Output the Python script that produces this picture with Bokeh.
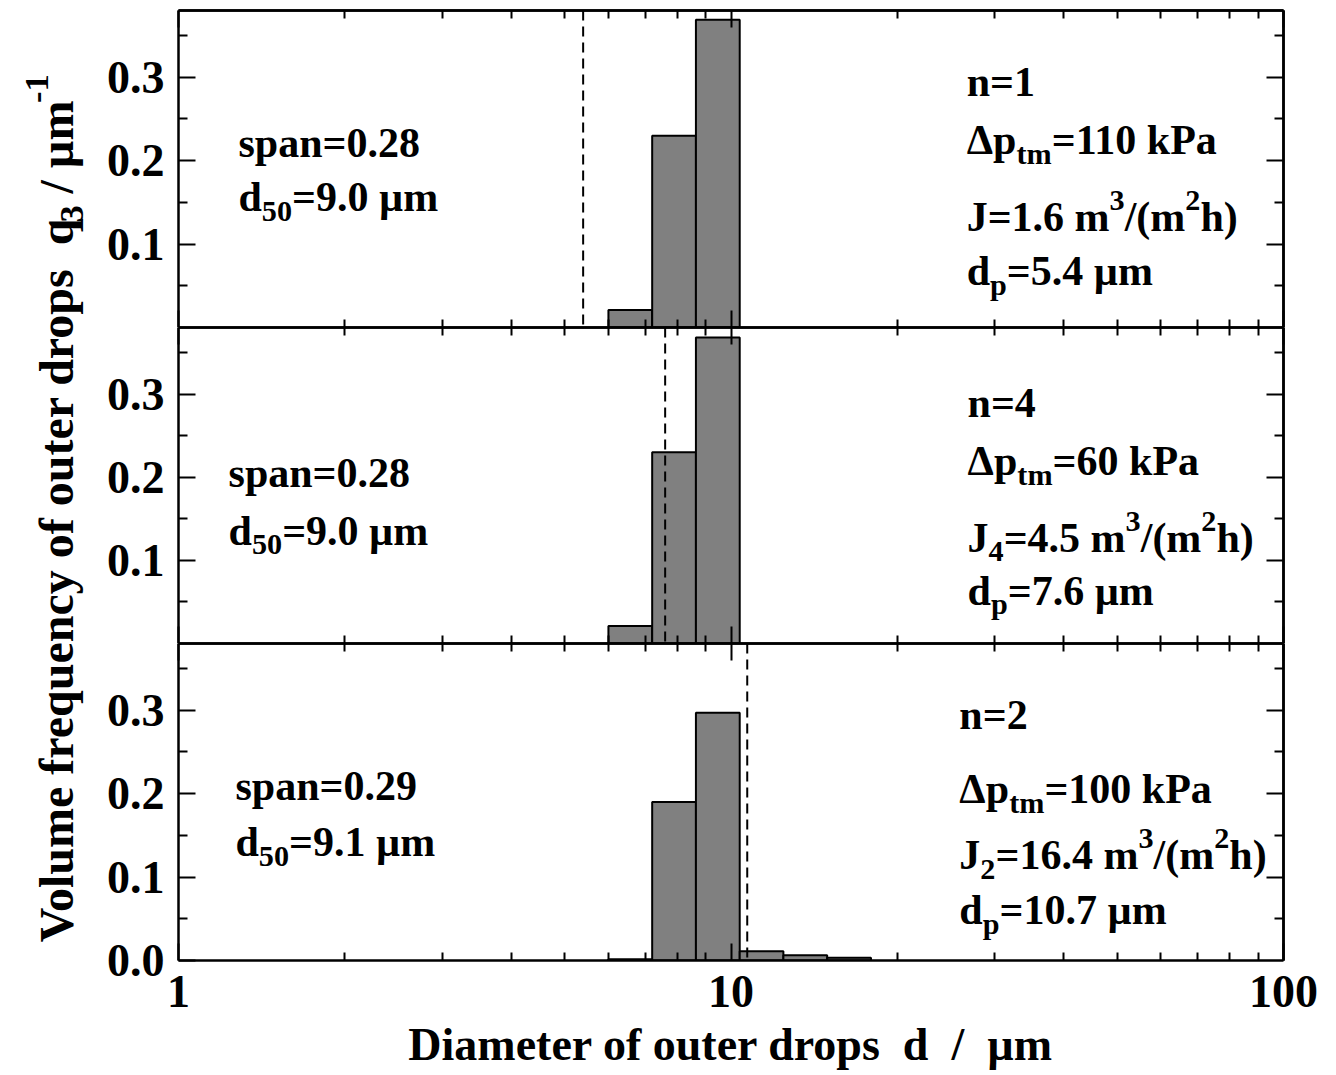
import numpy as np
from bokeh.plotting import figure
from bokeh.layouts import row, column
from bokeh.models import (Range1d, LinearAxis, FixedTicker, Span,
                          ColumnDataSource, NumeralTickFormatter)
from bokeh.core.properties import value
from bokeh.embed import file_html
from bokeh.resources import INLINE

FONT = "Liberation Serif"

# ---------------------------------------------------------------- data
# class edges of the outer-drop diameter distribution (um)
bin_edges = [6.0, 7.2, 8.64, 10.37, 12.44, 14.93, 17.92]

# volume density q3 of each class (1/um), one list per run
q3_n1 = [0.021, 0.230, 0.369, 0.0, 0.0, 0.0]
q3_n4 = [0.021, 0.230, 0.368, 0.0, 0.0, 0.0]
q3_n2 = [0.0015, 0.190, 0.297, 0.011, 0.0064, 0.0032]

runs = ["1", "4", "2"]
pressure_kpa = [110, 60, 100]
flux = [1.6, 4.5, 16.4]
flux_index = ["", "4", "2"]
pore_d = [5.4, 7.6, 10.7]
span_val = [0.28, 0.28, 0.29]
d50_val = [9.0, 9.0, 9.1]

x_ticks = [1, 10, 100]
x_minor = [2, 3, 4, 5, 6, 7, 8, 9, 20, 30, 40, 50, 60, 70, 80, 90]
y_ticks = [0.1, 0.2, 0.3]
y_minor = [0.05, 0.15, 0.25, 0.35]

# ---------------------------------------------------------------- text layout
# anchors of the annotation blocks inside each panel (data coordinates)
left_x = [1.284, 1.232, 1.268]
left_y = [[0.2215, 0.156], [0.205, 0.1355], [0.209, 0.1415]]
right_x = [26.7, 26.8, 25.9]
right_y = [[0.294, 0.225, 0.132, 0.068],
           [0.289, 0.219, 0.127, 0.0636],
           [0.294, 0.206, 0.126, 0.060]]

# advance widths (em) of the bold serif face, used to chain sub/superscripts
W = {" ": 0.25, "\u00a0": 0.25, "(": 0.333, ")": 0.333, ".": 0.25, "/": 0.278,
     "=": 0.57, "-": 0.333, "a": 0.5, "b": 0.556, "c": 0.444, "d": 0.556,
     "e": 0.444, "f": 0.333, "h": 0.556, "k": 0.556, "l": 0.278, "m": 0.833,
     "n": 0.556, "o": 0.5, "p": 0.556, "q": 0.556, "r": 0.444, "s": 0.389,
     "t": 0.333, "u": 0.556, "y": 0.5, "J": 0.5, "P": 0.611, "V": 0.722,
     "\u0394": 0.63, "\u00b5": 0.556}
for ch in "0123456789":
    W[ch] = 0.5

SCRIPT = 0.72


def width(s, size):
    return sum(W.get(c, 0.5) for c in s) * size


def rich_text(p, x, y, parts, size):
    """Draw a run of text pieces (normal / sub / sup) starting at (x, y)."""
    groups = {}
    off = 0.0
    for s, role in parts:
        fs = size * (SCRIPT if role else 1.0)
        body = s.strip(" \u00a0")
        lead = len(s) - len(s.lstrip(" \u00a0"))
        trail = len(s) - len(s.rstrip(" \u00a0"))
        off += lead * 0.25 * fs
        yo = 0.33 * size if role == "sub" else (-0.40 * size if role == "sup" else 0.0)
        g = groups.setdefault(role, dict(x=[], y=[], t=[], xo=[], yo=[]))
        g["x"].append(x); g["y"].append(y); g["t"].append(body)
        g["xo"].append(off); g["yo"].append(yo)
        off += width(body, fs) + trail * 0.25 * fs
    for role, g in groups.items():
        fs = size * (SCRIPT if role else 1.0)
        p.text(x="x", y="y", text="t", x_offset="xo", y_offset="yo",
               source=ColumnDataSource(g), text_font=value(FONT),
               text_font_style="bold", text_font_size=f"{fs:.1f}px",
               text_color="black", text_align="left", text_baseline="alphabetic")


def base_style(ax):
    ax.axis_line_width = 2.5
    ax.axis_line_color = "black"
    ax.major_tick_line_width = 2
    ax.minor_tick_line_width = 2
    ax.major_tick_out = 0
    ax.minor_tick_out = 0
    ax.major_label_standoff = 0


def labelled_axis(ticks, minor, fmt, major_len, minor_len, standoff):
    ax = LinearAxis(ticker=FixedTicker(ticks=ticks, minor_ticks=minor),
                    formatter=NumeralTickFormatter(format=fmt))
    base_style(ax)
    ax.major_tick_in = major_len
    ax.minor_tick_in = minor_len
    ax.major_label_standoff = standoff
    ax.major_label_text_font = FONT
    ax.major_label_text_font_style = "bold"
    ax.major_label_text_font_size = "46px"
    ax.major_label_text_color = "black"
    return ax


def tick_only_axes(positions, length):
    """An unlabelled axis whose only marks are inward ticks at the given positions."""
    ax = LinearAxis(ticker=FixedTicker(ticks=[], minor_ticks=positions))
    base_style(ax)
    ax.major_tick_in = 0
    ax.minor_tick_in = length
    return ax


def mirror(p, loc, major, minor, major_len, minor_len):
    p.add_layout(tick_only_axes(major, major_len), loc)
    p.add_layout(tick_only_axes(minor, minor_len), loc)


def panel(k, q3, frame_h, top_border, bottom_border, last):
    p = figure(x_axis_type="log", x_range=Range1d(1, 100), y_range=Range1d(0, 0.38),
               frame_width=1105, frame_height=frame_h,
               min_border_left=88, min_border_right=53,
               min_border_top=top_border, min_border_bottom=bottom_border,
               x_axis_location=None, y_axis_location=None,
               toolbar_location=None, output_backend="svg")
    p.outline_line_color = None
    p.grid.visible = False
    p.background_fill_color = "white"
    p.border_fill_color = "white"

    # x axes: labelled only below the last panel, plain inward ticks elsewhere
    if last:
        ax = labelled_axis(x_ticks, x_minor, "0", 17, 8, 15)
        ax.axis_label = "Diameter of outer drops\u00a0 d\u00a0 /\u00a0 \u00b5m"
        ax.axis_label_text_font = FONT
        ax.axis_label_text_font_style = "bold"
        ax.axis_label_text_font_size = "46px"
        ax.axis_label_text_color = "black"
        ax.axis_label_standoff = 9
        p.add_layout(ax, "below")
    else:
        mirror(p, "below", x_ticks, x_minor, 17, 8)
    mirror(p, "above", x_ticks, x_minor, 17, 8)

    # y axes: labelled on the left, mirrored ticks on the right
    ticks = ([0.0] if last else []) + y_ticks
    p.add_layout(labelled_axis(ticks, y_minor, "0.0", 17, 9, 14), "left")
    mirror(p, "right", y_ticks, y_minor, 17, 9)

    # histogram bars
    lefts, rights, tops = [], [], []
    for i, v in enumerate(q3):
        if v > 0:
            lefts.append(bin_edges[i]); rights.append(bin_edges[i + 1]); tops.append(v)
    p.quad(left=lefts, right=rights, bottom=0, top=tops,
           fill_color="#808080", line_color="black", line_width=2)

    # pore diameter marker
    p.add_layout(Span(location=pore_d[k], dimension="height", line_color="black",
                      line_width=2, line_dash="10 6"))

    size = 42
    rich_text(p, left_x[k], left_y[k][0], [(f"span={span_val[k]:.2f}", "")], size)
    rich_text(p, left_x[k], left_y[k][1],
              [("d", ""), ("50", "sub"), (f"={d50_val[k]:.1f} \u00b5m", "")], size)

    ry = right_y[k]
    rich_text(p, right_x[k], ry[0], [(f"n={runs[k]}", "")], size)
    rich_text(p, right_x[k], ry[1],
              [("\u0394p", ""), ("tm", "sub"), (f"={pressure_kpa[k]} kPa", "")], size)
    jparts = [("J", "")]
    if flux_index[k]:
        jparts.append((flux_index[k], "sub"))
    jparts += [(f"={flux[k]:.1f} m", ""), ("3", "sup"), ("/(m", ""), ("2", "sup"), ("h)", "")]
    rich_text(p, right_x[k], ry[2], jparts, size)
    rich_text(p, right_x[k], ry[3],
              [("d", ""), ("p", "sub"), (f"={pore_d[k]:.1f} \u00b5m", "")], size)
    return p


p1 = panel(0, q3_n1, 317, 10, 0, False)
p2 = panel(1, q3_n4, 316, 0, 0, False)
p3 = panel(2, q3_n2, 317, 0, 115, True)

# rotated y-axis title spanning all panels
lab = figure(width=90, height=1075, x_range=Range1d(0, 90), y_range=Range1d(0, 1075),
             x_axis_location=None, y_axis_location=None, min_border=0,
             toolbar_location=None, output_backend="svg")
lab.outline_line_color = None
lab.grid.visible = False

ysize = 48
squeeze = 0.985
yparts = [("Volume frequency of outer drops\u00a0 q", ""), ("3", "sub"),
          (" / \u00b5m", ""), ("-1", "sup")]
total = 0.0
for s, role in yparts:
    total += width(s, ysize * (SCRIPT if role else 1.0)) * squeeze
base_x = 56.0
pos = 1075 - 508 - total / 2
for s, role in yparts:
    fs = ysize * (SCRIPT if role else 1.0)
    body = s.strip(" \u00a0")
    lead = len(s) - len(s.lstrip(" \u00a0"))
    trail = len(s) - len(s.rstrip(" \u00a0"))
    pos += lead * 0.25 * fs
    xs = base_x + (0.33 * ysize if role == "sub" else (-0.40 * ysize if role == "sup" else 0.0))
    lab.text(x=[xs], y=[pos], text=[body], angle=np.pi / 2, text_font=value(FONT),
             text_font_style="bold", text_font_size=f"{fs:.1f}px", text_color="black",
             text_align="left", text_baseline="alphabetic")
    pos += width(body, fs) * squeeze + trail * 0.25 * fs

layout = row(lab, column(p1, p2, p3, spacing=0), spacing=0)
open("out.html", "w").write(file_html(layout, INLINE))
